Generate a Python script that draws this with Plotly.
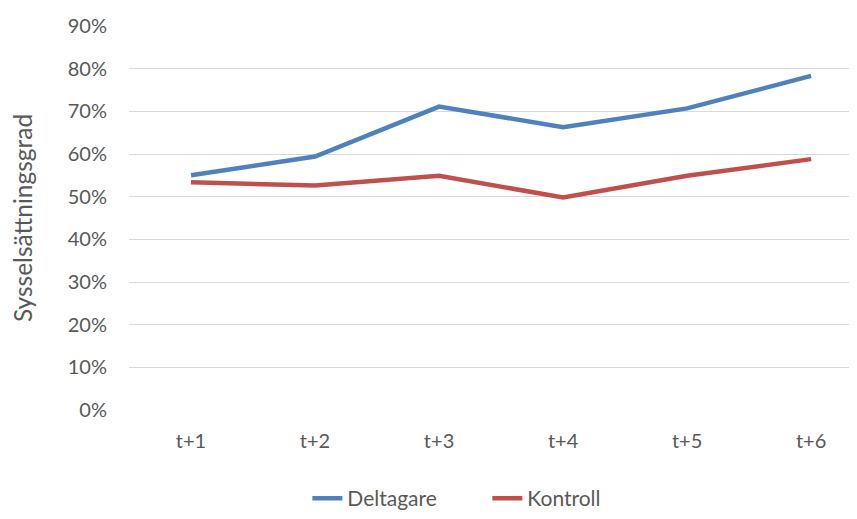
import plotly.graph_objects as go

categories = ["t+1", "t+2", "t+3", "t+4", "t+5", "t+6"]
deltagare = [0.550, 0.594, 0.711, 0.663, 0.707, 0.783]
kontroll = [0.534, 0.526, 0.549, 0.498, 0.549, 0.588]
y_ticks = [0, 0.1, 0.2, 0.3, 0.4, 0.5, 0.6, 0.7, 0.8, 0.9]
y_tick_labels = ["0%", "10%", "20%", "30%", "40%", "50%", "60%", "70%", "80%", "90%"]

fig = go.Figure()
fig.add_trace(go.Scatter(x=categories, y=deltagare, mode="lines", name="Deltagare",
                         line=dict(color="#4F81BD", width=4.5)))
fig.add_trace(go.Scatter(x=categories, y=kontroll, mode="lines", name="Kontroll",
                         line=dict(color="#C0504D", width=4.5)))

fig.update_layout(
    width=849, height=511,
    margin=dict(l=121, r=0, t=18, b=109),
    plot_bgcolor="white", paper_bgcolor="white",
    font=dict(family="Lato, Open Sans, sans-serif", size=20, color="#595959"),
    xaxis=dict(type="category", range=[-0.5, 5.37], showgrid=False, zeroline=False,
               showline=False, ticks="", automargin=False, ticklabelstandoff=17,
               tickfont=dict(size=20, color="#595959")),
    yaxis=dict(range=[0, 0.9], tickvals=y_ticks, ticktext=y_tick_labels,
               showgrid=True, gridcolor="#D9D9D9", gridwidth=1.3, zeroline=False,
               showline=False, ticks="", ticklabelstandoff=21, automargin=False,
               tickfont=dict(size=20, color="#595959"),
               title=dict(text="Sysselsättningsgrad", font=dict(size=24.5, color="#595959"),
                          standoff=44)),
    legend=dict(orientation="h", x=0.245, xanchor="left", yref="container", y=-0.02,
                yanchor="bottom",
                font=dict(size=21, color="#595959"), entrywidth=135,
                entrywidthmode="pixels", traceorder="normal"),
    showlegend=True,
)

fig.write_html("out.html")
